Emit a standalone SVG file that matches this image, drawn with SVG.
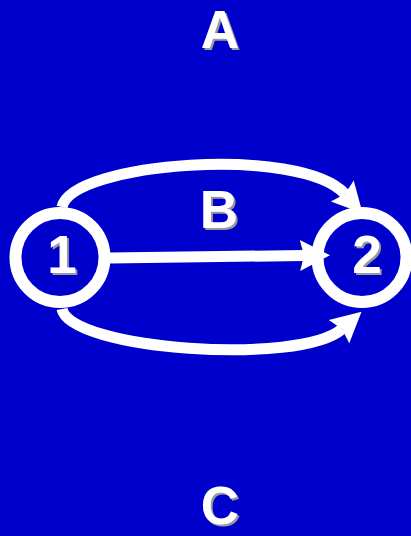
<svg xmlns="http://www.w3.org/2000/svg" width="411" height="536" viewBox="0 0 411 536">
<defs>
<style>
.lbl{font-family:"Liberation Sans",Arial,sans-serif;font-weight:bold;font-size:53px;text-anchor:middle;fill:#ffffff;filter:url(#shadow)}
.ring{fill:none;stroke:#ffffff;stroke-width:12}
.edge{fill:none;stroke:#ffffff;stroke-width:11}
</style>
<filter id="shadow" x="-20%" y="-20%" width="140%" height="140%">
<feDropShadow dx="2" dy="2" stdDeviation="0.4" flood-color="#9a9a9a" flood-opacity="1"/>
</filter>
<marker id="ah" markerUnits="userSpaceOnUse" markerWidth="40" markerHeight="40" refX="4" refY="0" orient="auto" overflow="visible">
<path d="M0,-15.5 L30,0 L0,15.5 L4,0 Z" fill="#ffffff"/>
</marker>
</defs>
<rect x="0" y="0" width="411" height="536" fill="#0000CC"/>
<g id="connectors">
<path class="edge" d="M62,207 C72,162 300,145 345,194" marker-end="url(#ah)"/>
<path class="edge" d="M110,258 L304,255.5" marker-end="url(#ah)"/>
<path class="edge" d="M62,309 C70,350 300,366 342,329" marker-end="url(#ah)"/>
</g>
<g id="node1">
<circle class="ring" cx="60" cy="257.5" r="44.5"/>
<text class="lbl" x="62" y="273">1</text>
</g>
<g id="node2">
<circle class="ring" cx="362" cy="257.5" r="44.5"/>
<text class="lbl" x="367" y="273">2</text>
</g>
<g id="labelA">
<text class="lbl" x="220" y="48">A</text>
</g>
<g id="labelB">
<text class="lbl" x="219" y="228">B</text>
</g>
<g id="labelC">
<text class="lbl" x="220" y="524">C</text>
</g>
</svg>
